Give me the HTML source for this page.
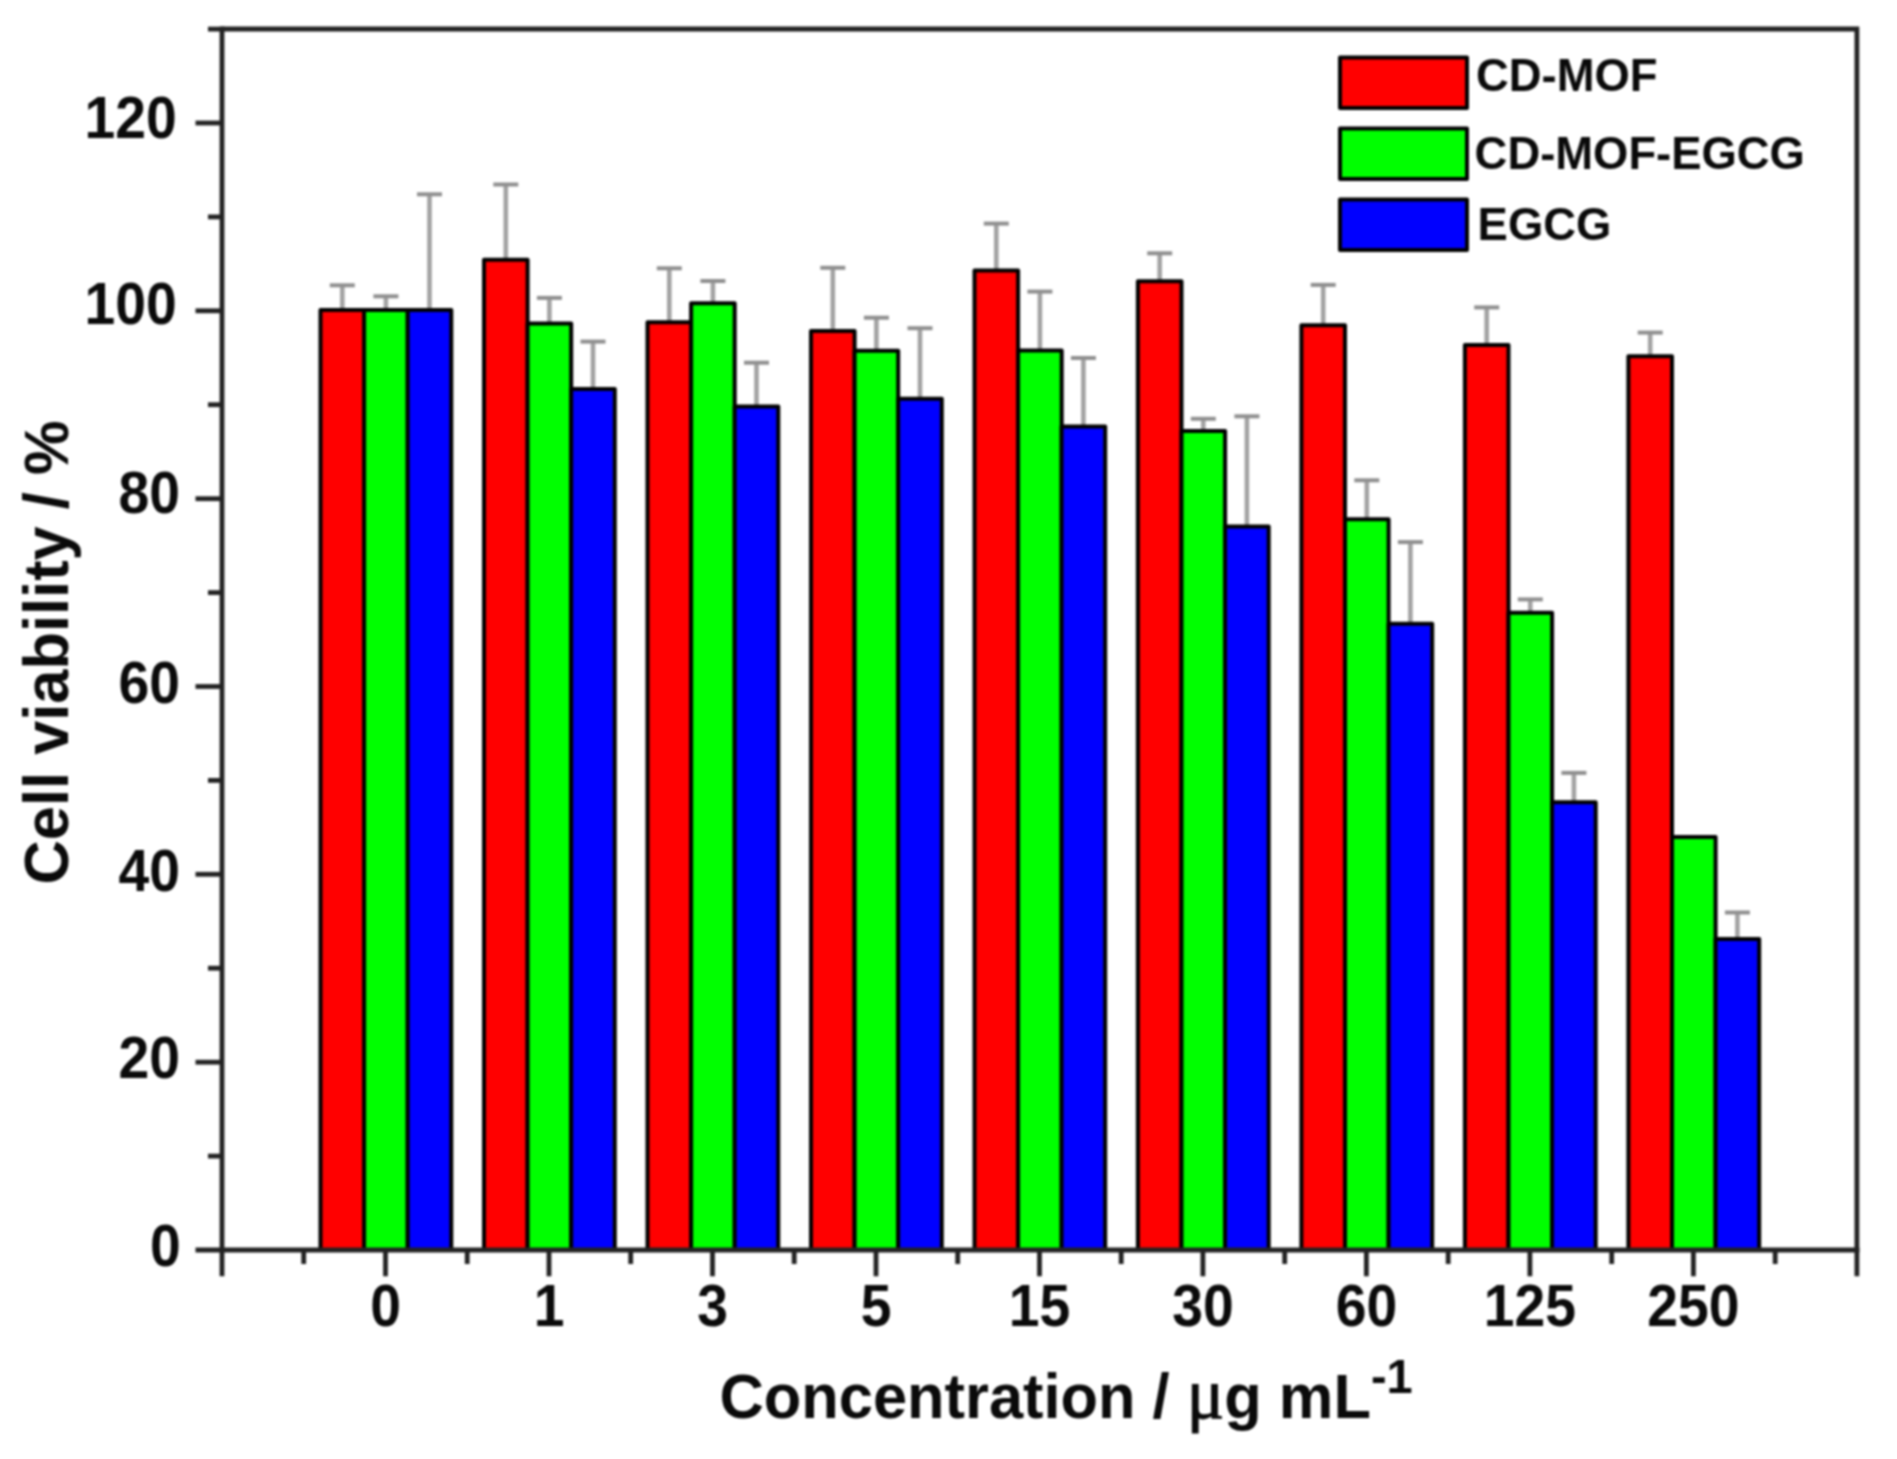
<!DOCTYPE html>
<html lang="en"><head><meta charset="utf-8"><title>Cell viability</title>
<style>
html,body{margin:0;padding:0;background:#fff;}
body{width:1897px;height:1459px;overflow:hidden;}
svg{display:block;filter:blur(0.9px);}
text{font-family:"Liberation Sans",Arial,Helvetica,sans-serif;font-weight:bold;fill:#0a0a0a;}
.tk{font-size:55.3px;}
.ti{font-size:61.4px;}
.lg{font-size:45.4px;}
.mu{font-family:"Liberation Serif","DejaVu Serif",serif;font-weight:normal;font-size:70px;stroke:#0a0a0a;stroke-width:1.1px;}
</style></head><body>
<svg width="1897" height="1459" viewBox="0 0 1897 1459">
<rect x="0" y="0" width="1897" height="1459" fill="#ffffff"/>

<g stroke="#8e8e8e" stroke-width="3.3" fill="none">
<path stroke="#a2a2a2" stroke-width="4.6" d="M342.3 311.0V285.0"/><path stroke="#8f8f8f" stroke-width="4" d="M329.8 285.3H354.8"/>
<path stroke="#a2a2a2" stroke-width="4.6" d="M385.9 311.0V296.0"/><path stroke="#8f8f8f" stroke-width="4" d="M373.4 296.3H398.4"/>
<path stroke="#a2a2a2" stroke-width="4.6" d="M429.5 311.0V194.0"/><path stroke="#8f8f8f" stroke-width="4" d="M417.0 194.3H442.0"/>
<path stroke="#a2a2a2" stroke-width="4.6" d="M505.8 261.5V184.2"/><path stroke="#8f8f8f" stroke-width="4" d="M493.3 184.5H518.3"/>
<path stroke="#a2a2a2" stroke-width="4.6" d="M549.4 325.4V297.6"/><path stroke="#8f8f8f" stroke-width="4" d="M536.9 297.9H561.9"/>
<path stroke="#a2a2a2" stroke-width="4.6" d="M593.0 391.3V341.3"/><path stroke="#8f8f8f" stroke-width="4" d="M580.5 341.6H605.5"/>
<path stroke="#a2a2a2" stroke-width="4.6" d="M669.3 324.0V268.0"/><path stroke="#8f8f8f" stroke-width="4" d="M656.8 268.3H681.8"/>
<path stroke="#a2a2a2" stroke-width="4.6" d="M712.9 305.0V280.7"/><path stroke="#8f8f8f" stroke-width="4" d="M700.4 281.0H725.4"/>
<path stroke="#a2a2a2" stroke-width="4.6" d="M756.5 408.4V362.4"/><path stroke="#8f8f8f" stroke-width="4" d="M744.0 362.7H769.0"/>
<path stroke="#a2a2a2" stroke-width="4.6" d="M832.8 332.0V267.5"/><path stroke="#8f8f8f" stroke-width="4" d="M820.3 267.8H845.3"/>
<path stroke="#a2a2a2" stroke-width="4.6" d="M876.4 351.8V317.4"/><path stroke="#8f8f8f" stroke-width="4" d="M863.9 317.7H888.9"/>
<path stroke="#a2a2a2" stroke-width="4.6" d="M920.0 399.2V327.9"/><path stroke="#8f8f8f" stroke-width="4" d="M907.5 328.2H932.5"/>
<path stroke="#a2a2a2" stroke-width="4.6" d="M996.3 271.4V223.3"/><path stroke="#8f8f8f" stroke-width="4" d="M983.8 223.6H1008.8"/>
<path stroke="#a2a2a2" stroke-width="4.6" d="M1039.9 351.2V291.3"/><path stroke="#8f8f8f" stroke-width="4" d="M1027.4 291.6H1052.4"/>
<path stroke="#a2a2a2" stroke-width="4.6" d="M1083.4 426.4V357.7"/><path stroke="#8f8f8f" stroke-width="4" d="M1070.9 358.0H1095.9"/>
<path stroke="#a2a2a2" stroke-width="4.6" d="M1159.7 282.0V253.0"/><path stroke="#8f8f8f" stroke-width="4" d="M1147.2 253.3H1172.2"/>
<path stroke="#a2a2a2" stroke-width="4.6" d="M1203.3 431.5V418.5"/><path stroke="#8f8f8f" stroke-width="4" d="M1190.8 418.8H1215.8"/>
<path stroke="#a2a2a2" stroke-width="4.6" d="M1246.9 527.2V416.0"/><path stroke="#8f8f8f" stroke-width="4" d="M1234.4 416.3H1259.4"/>
<path stroke="#a2a2a2" stroke-width="4.6" d="M1323.2 326.6V284.6"/><path stroke="#8f8f8f" stroke-width="4" d="M1310.7 284.9H1335.7"/>
<path stroke="#a2a2a2" stroke-width="4.6" d="M1366.8 520.2V480.0"/><path stroke="#8f8f8f" stroke-width="4" d="M1354.3 480.3H1379.3"/>
<path stroke="#a2a2a2" stroke-width="4.6" d="M1410.4 624.7V541.8"/><path stroke="#8f8f8f" stroke-width="4" d="M1397.9 542.1H1422.9"/>
<path stroke="#a2a2a2" stroke-width="4.6" d="M1486.7 346.0V307.1"/><path stroke="#8f8f8f" stroke-width="4" d="M1474.2 307.4H1499.2"/>
<path stroke="#a2a2a2" stroke-width="4.6" d="M1530.3 613.8V599.1"/><path stroke="#8f8f8f" stroke-width="4" d="M1517.8 599.4H1542.8"/>
<path stroke="#a2a2a2" stroke-width="4.6" d="M1573.9 803.3V772.6"/><path stroke="#8f8f8f" stroke-width="4" d="M1561.4 772.9H1586.4"/>
<path stroke="#a2a2a2" stroke-width="4.6" d="M1650.2 357.2V332.3"/><path stroke="#8f8f8f" stroke-width="4" d="M1637.7 332.6H1662.7"/>
<path stroke="#a2a2a2" stroke-width="4.6" d="M1737.4 939.9V912.2"/><path stroke="#8f8f8f" stroke-width="4" d="M1724.9 912.5H1749.9"/>
</g>
<g stroke="#000" stroke-width="4" stroke-linejoin="round">
<rect x="320.5" y="309.9" width="43.6" height="940.1" fill="#ff0000"/>
<rect x="364.1" y="309.9" width="43.6" height="940.1" fill="#00ff00"/>
<rect x="407.7" y="309.9" width="43.6" height="940.1" fill="#0000ff"/>
<rect x="484.0" y="259.7" width="43.6" height="990.3" fill="#ff0000"/>
<rect x="527.6" y="323.6" width="43.6" height="926.4" fill="#00ff00"/>
<rect x="571.2" y="389.0" width="43.6" height="861.0" fill="#0000ff"/>
<rect x="647.5" y="322.2" width="43.6" height="927.8" fill="#ff0000"/>
<rect x="691.1" y="303.2" width="43.6" height="946.8" fill="#00ff00"/>
<rect x="734.7" y="406.6" width="43.6" height="843.4" fill="#0000ff"/>
<rect x="811.0" y="331.0" width="43.6" height="919.0" fill="#ff0000"/>
<rect x="854.6" y="350.8" width="43.6" height="899.2" fill="#00ff00"/>
<rect x="898.2" y="398.8" width="43.6" height="851.2" fill="#0000ff"/>
<rect x="974.5" y="270.5" width="43.6" height="979.5" fill="#ff0000"/>
<rect x="1018.1" y="350.4" width="43.6" height="899.6" fill="#00ff00"/>
<rect x="1061.6" y="426.4" width="43.6" height="823.6" fill="#0000ff"/>
<rect x="1137.9" y="281.2" width="43.6" height="968.8" fill="#ff0000"/>
<rect x="1181.5" y="430.9" width="43.6" height="819.1" fill="#00ff00"/>
<rect x="1225.1" y="526.6" width="43.6" height="723.4" fill="#0000ff"/>
<rect x="1301.4" y="325.2" width="43.6" height="924.8" fill="#ff0000"/>
<rect x="1345.0" y="519.2" width="43.6" height="730.8" fill="#00ff00"/>
<rect x="1388.6" y="623.7" width="43.6" height="626.3" fill="#0000ff"/>
<rect x="1464.9" y="344.9" width="43.6" height="905.1" fill="#ff0000"/>
<rect x="1508.5" y="612.8" width="43.6" height="637.2" fill="#00ff00"/>
<rect x="1552.1" y="802.3" width="43.6" height="447.7" fill="#0000ff"/>
<rect x="1628.4" y="356.3" width="43.6" height="893.7" fill="#ff0000"/>
<rect x="1672.0" y="836.9" width="43.6" height="413.1" fill="#00ff00"/>
<rect x="1715.6" y="938.9" width="43.6" height="311.1" fill="#0000ff"/>
</g>
<g stroke="#222222" stroke-width="4.8" fill="none" stroke-linecap="butt">
<path d="M222.0 29.0H1856.9V1276.3"/>
<path d="M222.0 26.5V1276.3"/>
<path d="M195.5 1250.0H1859.4"/>
<path d="M208.0 1156.1H222.0"/>
<path d="M195.5 1062.2H222.0"/>
<path d="M208.0 968.2H222.0"/>
<path d="M195.5 874.3H222.0"/>
<path d="M208.0 780.4H222.0"/>
<path d="M195.5 686.5H222.0"/>
<path d="M208.0 592.6H222.0"/>
<path d="M195.5 498.7H222.0"/>
<path d="M208.0 404.7H222.0"/>
<path d="M195.5 310.8H222.0"/>
<path d="M208.0 216.9H222.0"/>
<path d="M195.5 123.0H222.0"/>
<path d="M208.0 29.1H222.0"/>
<path d="M385.5 1250.0V1276.3"/>
<path d="M549.0 1250.0V1276.3"/>
<path d="M712.5 1250.0V1276.3"/>
<path d="M876.0 1250.0V1276.3"/>
<path d="M1039.5 1250.0V1276.3"/>
<path d="M1202.9 1250.0V1276.3"/>
<path d="M1366.4 1250.0V1276.3"/>
<path d="M1529.9 1250.0V1276.3"/>
<path d="M1693.4 1250.0V1276.3"/>
<path d="M303.7 1250.0V1264.0"/>
<path d="M467.2 1250.0V1264.0"/>
<path d="M630.7 1250.0V1264.0"/>
<path d="M794.2 1250.0V1264.0"/>
<path d="M957.7 1250.0V1264.0"/>
<path d="M1121.2 1250.0V1264.0"/>
<path d="M1284.7 1250.0V1264.0"/>
<path d="M1448.2 1250.0V1264.0"/>
<path d="M1611.7 1250.0V1264.0"/>
<path d="M1775.2 1250.0V1264.0"/>
</g>
<text class="tk" transform="translate(180.7 1266.4) scale(1 1.07)" text-anchor="end">0</text>
<text class="tk" transform="translate(180 1078.3) scale(1 1.07)" text-anchor="end">20</text>
<text class="tk" transform="translate(180 890.8) scale(1 1.07)" text-anchor="end">40</text>
<text class="tk" transform="translate(180 703.3) scale(1 1.07)" text-anchor="end">60</text>
<text class="tk" transform="translate(180 513.2) scale(1 1.07)" text-anchor="end">80</text>
<text class="tk" transform="translate(176.8 324.1) scale(1 1.07)" text-anchor="end">100</text>
<text class="tk" transform="translate(176.8 137.7) scale(1 1.07)" text-anchor="end">120</text>
<text class="tk" transform="translate(385.5 1325.8) scale(1 1.07)" text-anchor="middle">0</text>
<text class="tk" transform="translate(549.0 1325.8) scale(1 1.07)" text-anchor="middle">1</text>
<text class="tk" transform="translate(712.5 1325.8) scale(1 1.07)" text-anchor="middle">3</text>
<text class="tk" transform="translate(876.0 1325.8) scale(1 1.07)" text-anchor="middle">5</text>
<text class="tk" transform="translate(1039.5 1325.8) scale(1 1.07)" text-anchor="middle">15</text>
<text class="tk" transform="translate(1202.9 1325.8) scale(1 1.07)" text-anchor="middle">30</text>
<text class="tk" transform="translate(1366.4 1325.8) scale(1 1.07)" text-anchor="middle">60</text>
<text class="tk" transform="translate(1529.9 1325.8) scale(1 1.07)" text-anchor="middle">125</text>
<text class="tk" transform="translate(1693.4 1325.8) scale(1 1.07)" text-anchor="middle">250</text>
<text class="ti" transform="translate(719.5 1417.6) scale(1 1.035)">Concentration / <tspan class="mu">μ</tspan>g mL<tspan font-size="47" dy="-24">-1</tspan></text>
<text class="ti" transform="translate(68.3 652.5) rotate(-90) scale(1 1.035)" text-anchor="middle">Cell viability / %</text>
<g stroke="#000" stroke-width="4" stroke-linejoin="round">
<rect x="1340" y="57.6" width="127" height="50.3" fill="#ff0000"/>
<rect x="1340" y="128.6" width="127" height="50.3" fill="#00ff00"/>
<rect x="1340" y="199.6" width="127" height="50.3" fill="#0000ff"/>
</g>
<text class="lg" transform="translate(1476 90.8) scale(1 1.03)">CD-MOF</text>
<text class="lg" transform="translate(1474.6 168.5) scale(1 1.03)">CD-MOF-EGCG</text>
<text class="lg" transform="translate(1477.6 239.6) scale(1 1.03)">EGCG</text>
</svg></body></html>
